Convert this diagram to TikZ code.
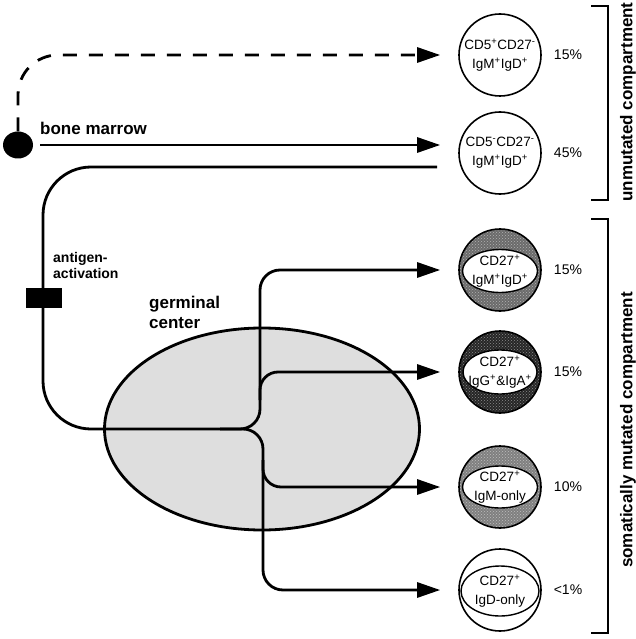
\documentclass[tikz,border=0pt]{standalone}
\usepackage{fontspec}
\setmainfont{Liberation Sans}
\usetikzlibrary{arrows.meta,patterns,shapes.geometric}
\begin{document}
\begin{tikzpicture}[x=1pt,y=-1pt,
  line/.style={line width=2.8pt},
  tip/.style={-{Triangle[length=23pt,width=15pt]}},
  arr/.style={line, tip, shorten >=18pt},
  cell/.style={circle, draw, line width=1.6pt, minimum size=82pt, inner sep=0pt},
  celltext/.style={font=\fontsize{13.5}{19}\selectfont, align=center, inner sep=0pt},
  pct/.style={font=\fontsize{14}{16}\selectfont},
  lab/.style={font=\fontsize{17}{20}\selectfont\bfseries, align=left, inner sep=0pt},
  smalllab/.style={font=\fontsize{14}{16}\selectfont\bfseries, align=left, inner sep=0pt},
  inner/.style={ellipse, draw, line width=1.4pt, fill=white, inner sep=0pt},
]
\useasboundingbox (0,0) rectangle (636,639);

% germinal center
\node[ellipse, draw, line width=2.8pt, fill=black!13, minimum width=315pt, minimum height=202pt, inner sep=0pt] (gc) at (262,429) {};

% cells
\node[cell] (c1) at (500,55) {};
\node[cell] (c2) at (500,153) {};
\node[cell, fill=black!58] (c3) at (500,270) {};
\node[cell, fill=black!85] (c4) at (500,372) {};
\node[cell, fill=black!50] (c5) at (500,487) {};
\node[cell] (c6) at (500,590) {};
\path[pattern=crosshatch dots, pattern color=white!70!black] (c3.center) circle[radius=40pt];
\path[pattern=crosshatch dots, pattern color=black!45] (c4.center) circle[radius=40pt];
\path[pattern=crosshatch dots, pattern color=white!75!black] (c5.center) circle[radius=40pt];
\node[inner, minimum width=75pt, minimum height=43pt] (i3) at (500,271) {};
\node[inner, minimum width=74pt, minimum height=44pt] (i4) at (500,372) {};
\node[inner, minimum width=75pt, minimum height=42pt] (i5) at (500,487) {};
\node[inner, minimum width=78pt, minimum height=50pt] (i6) at (500,591) {};

\node[celltext] (t1) at (c1) {CD5\textsuperscript{+}CD27\textsuperscript{-}\\IgM\textsuperscript{+}IgD\textsuperscript{+}};
\node[celltext] (t2) at (c2) {CD5\textsuperscript{-}CD27\textsuperscript{-}\\IgM\textsuperscript{+}IgD\textsuperscript{+}};
\node[celltext] (t3) at (i3) {CD27\textsuperscript{+}\\IgM\textsuperscript{+}IgD\textsuperscript{+}};
\node[celltext] (t4) at (i4) {CD27\textsuperscript{+}\\IgG\textsuperscript{+}\&IgA\textsuperscript{+}};
\node[celltext] (t5) at (i5) {CD27\textsuperscript{+}\\IgM-only};
\node[celltext] (t6) at (i6) {CD27\textsuperscript{+}\\IgD-only};

% percentages
\node[pct] (p1) at (568,55) {15\%};
\node[pct] (p2) at (568,153) {45\%};
\node[pct] (p3) at (568,270) {15\%};
\node[pct] (p4) at (568,372) {15\%};
\node[pct] (p5) at (568,487) {10\%};
\node[pct] (p6) at (568,590) {<1\%};

% brackets
\draw[line] (591,6) -- (608,6) -- (608,200) -- (591,200);
\draw[line] (591,219) -- (608,219) -- (608,633) -- (591,633);
\node[lab, rotate=90] (u) at (628,102) {unmutated compartment};
\node[lab, rotate=90] (s) at (628,430) {somatically mutated compartment};

% bone marrow
\node[ellipse, fill, minimum width=30pt, minimum height=27pt, inner sep=0pt] (dot) at (18,145) {};
\node[lab, anchor=base west] (bm) at (40,135) {bone marrow};
\draw[line, tip, shorten >=18pt, dash pattern=on 14pt off 12pt, rounded corners=40pt] (dot.north) |- (c1);
\draw[arr, shorten <=7pt] (dot.east) -- (dot.east -| c2.west);

% antigen activation path
\coordinate (gin) at (437,167);
\coordinate (fork) at (220,429);
\draw[line, rounded corners=48pt] (gin) -- (43,167) -- (43,429) -- (fork);
\node[fill, minimum width=36pt, minimum height=20pt, inner sep=0pt] (block) at (44,298) {};
\node[smalllab, anchor=west] (aa) at (53,265) {antigen-\\activation};
\node[lab, anchor=west] (gcl) at (149,312) {germinal\\center};

% branches
\draw[arr, rounded corners=20pt] (fork) -- (260,429) -- (260,270) -- (c3);
\draw[arr, rounded corners=18pt] (260,400) -- (260,372) -- (c4);
\draw[arr, rounded corners=20pt] (fork) -- (263,429) -- (263,590) -- (c6);
\draw[arr, rounded corners=18pt] (263,460) -- (263,487) -- (c5);
\end{tikzpicture}
\end{document}
